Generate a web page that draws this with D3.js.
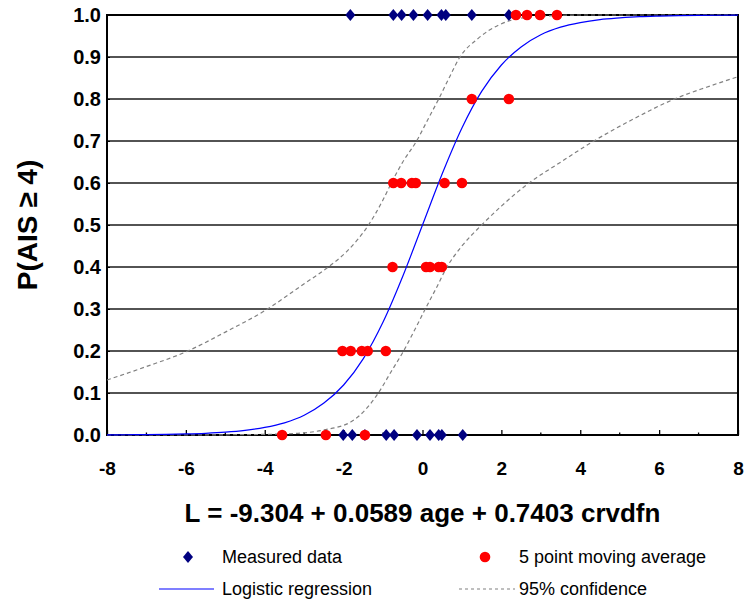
<!DOCTYPE html>
<html><head><meta charset="utf-8">
<script src="https://cdn.jsdelivr.net/npm/d3@7"></script>
<style>html,body{margin:0;padding:0;background:#fff;}svg{display:block;}</style>
</head><body>
<svg id="chart" width="744" height="599"></svg>
<script>
// ---- data ----
const xTickValues = [-8, -6, -4, -2, 0, 2, 4, 6, 8];
const xMinorTicks = [-7, -5, -3, -1, 1, 3, 5, 7];
const yTickValues = [0, 0.1, 0.2, 0.3, 0.4, 0.5, 0.6, 0.7, 0.8, 0.9, 1.0];

const measuredL = [-1.83, -0.74, -0.53, -0.23, 0.13, 0.48, 0.59, 1.25, 2.19,
                   -2.01, -1.78, -1.46, -0.92, -0.72, -0.14, 0.19, 0.41, 0.49, 1.02];
const measuredP = [1, 1, 1, 1, 1, 1, 1, 1, 1,
                   0, 0, 0, 0, 0, 0, 0, 0, 0, 0];

const movingAvgL = [-3.56, -2.45, -1.46,
                    -2.03, -1.82, -1.54, -1.39, -0.93,
                    -0.76, 0.09, 0.19, 0.41, 0.49,
                    -0.74, -0.54, -0.27, -0.17, 0.56, 1.0,
                    1.25, 2.19,
                    2.37, 2.65, 2.98, 3.41];
const movingAvgP = [0, 0, 0,
                    0.2, 0.2, 0.2, 0.2, 0.2,
                    0.4, 0.4, 0.4, 0.4, 0.4,
                    0.6, 0.6, 0.6, 0.6, 0.6, 0.6,
                    0.8, 0.8,
                    1, 1, 1, 1];

const regressionL = [-8, -7.5, -7, -6.5, -6, -5.5, -5, -4.5, -4, -3.5, -3, -2.5, -2, -1.5, -1, -0.5,
                     0, 0.5, 1, 1.5, 2, 2.5, 3, 3.5, 4, 4.5, 5, 5.5, 6, 6.5, 7, 7.5, 8];
const regressionP = [0.0003, 0.0006, 0.0009, 0.0015, 0.0025, 0.0041, 0.0067, 0.011, 0.018, 0.029, 0.047, 0.076, 0.119, 0.182, 0.269, 0.378,
                     0.5, 0.622, 0.731, 0.818, 0.881, 0.924, 0.953, 0.971, 0.982, 0.989, 0.993, 0.996, 0.9975, 0.9985, 0.9991, 0.9994, 0.9997];

const upperL = [-8, -7, -6, -5, -4, -3, -2.39, -1.93, -1.37, -1.0, -0.79, -0.5, -0.15, 0.13, 0.41, 0.7, 0.93, 1.42, 1.93, 2.27, 2.7, 3.2, 4, 5, 6, 7, 8];
const upperP = [0.131, 0.163, 0.198, 0.245, 0.296, 0.36, 0.40, 0.436, 0.50, 0.56, 0.60, 0.65, 0.70, 0.75, 0.80, 0.855, 0.897, 0.945, 0.976, 0.988, 0.995, 0.998, 1.0, 1.0, 1.0, 1.0, 1.0];

const lowerL = [-8, -6, -5, -4, -3.16, -2.5, -1.8, -1.45, -1.12, -0.8, -0.48, -0.2, 0.07, 0.35, 0.62, 1.0, 1.5, 2.0, 2.7, 3.46, 4.31, 5.3, 6.39, 7.2, 8];
const lowerP = [0.0, 0.0002, 0.0005, 0.0015, 0.004, 0.012, 0.032, 0.06, 0.10, 0.15, 0.20, 0.25, 0.30, 0.35, 0.40, 0.45, 0.50, 0.545, 0.60, 0.647, 0.698, 0.75, 0.80, 0.828, 0.853];

const xTitle = "L = -9.304 + 0.0589 age + 0.7403 crvdfn";
const yTitle = "P(AIS \u2265 4)";
const legendLabels = ["Measured data", "5 point moving average", "Logistic regression", "95% confidence"];

// ---- drawing ----
const FONT = "'Liberation Sans', Arial, sans-serif";
const svg = d3.select("#chart");
const plot = {left: 107, right: 738, top: 15, bottom: 435};
const x = d3.scaleLinear().domain([-8, 8]).range([plot.left, plot.right]);
const y = d3.scaleLinear().domain([0, 1]).range([plot.bottom, plot.top]);

svg.append("rect").attr("width", 744).attr("height", 599).attr("fill", "#fff");

// gridlines
svg.append("g").selectAll("line").data(yTickValues.filter(v => v > 0 && v < 1)).join("line")
  .attr("x1", plot.left).attr("x2", plot.right)
  .attr("y1", d => y(d)).attr("y2", d => y(d))
  .attr("stroke", "#1a1a1a").attr("stroke-width", 1.3);

// frame
svg.append("rect").attr("x", plot.left).attr("y", plot.top)
  .attr("width", plot.right - plot.left).attr("height", plot.bottom - plot.top)
  .attr("fill", "none").attr("stroke", "#000").attr("stroke-width", 2);

// x axis ticks (inside) and labels
const xAxis = d3.axisBottom(x).tickValues(xTickValues).tickSizeInner(-5).tickSizeOuter(0).tickPadding(0).tickFormat(d => String(d));
const gx = svg.append("g").attr("transform", `translate(0,${plot.bottom})`).call(xAxis);
gx.select(".domain").remove();
gx.selectAll(".tick line").attr("stroke", "#000").attr("stroke-width", 1.3);
gx.selectAll(".tick text").attr("y", 40).attr("dy", null)
  .attr("font-family", FONT).attr("font-size", 19).attr("font-weight", "bold").attr("fill", "#000");
svg.append("g").selectAll("line").data(xMinorTicks).join("line")
  .attr("x1", d => x(d)).attr("x2", d => x(d))
  .attr("y1", plot.bottom).attr("y2", plot.bottom - 2.5)
  .attr("stroke", "#000").attr("stroke-width", 1.3);

// y axis labels
const yAxis = d3.axisLeft(y).tickValues(yTickValues).tickSize(3).tickPadding(4).tickFormat(d3.format(".1f"));
const gy = svg.append("g").attr("transform", `translate(${plot.left},0)`).call(yAxis);
gy.select(".domain").remove();
gy.selectAll(".tick line").attr("x2", 3).attr("stroke", "#000");
gy.selectAll(".tick text").attr("x", -6)
  .attr("font-family", FONT).attr("font-size", 20).attr("font-weight", "bold").attr("fill", "#000");

// titles
svg.append("text").attr("x", (plot.left + plot.right) / 2).attr("y", 522)
  .attr("text-anchor", "middle").attr("font-family", FONT).attr("font-size", 26)
  .attr("font-weight", "bold").text(xTitle);
svg.append("text").attr("transform", `translate(37,${(plot.top + plot.bottom) / 2}) rotate(-90)`)
  .attr("text-anchor", "middle").attr("font-family", FONT).attr("font-size", 28)
  .attr("font-weight", "bold").text(yTitle);

// curves
const line = d3.line().x(d => x(d[0])).y(d => y(d[1])).curve(d3.curveMonotoneX);
const zip = (a, b) => a.map((v, i) => [v, b[i]]);
svg.append("path").datum(zip(upperL, upperP)).attr("d", line)
  .attr("fill", "none").attr("stroke", "#808080").attr("stroke-width", 1.2).attr("stroke-dasharray", "4,3");
svg.append("path").datum(zip(lowerL, lowerP)).attr("d", line)
  .attr("fill", "none").attr("stroke", "#808080").attr("stroke-width", 1.2).attr("stroke-dasharray", "4,3");
svg.append("path").datum(zip(regressionL, regressionP)).attr("d", line)
  .attr("fill", "none").attr("stroke", "#0000ff").attr("stroke-width", 1.2);

// markers
const diamond = "M0,-6L5,0L0,6L-5,0Z";
svg.append("g").selectAll("path").data(zip(measuredL, measuredP)).join("path")
  .attr("d", diamond).attr("transform", d => `translate(${x(d[0])},${y(d[1])})`)
  .attr("fill", "#000080");
svg.append("g").selectAll("circle").data(zip(movingAvgL, movingAvgP)).join("circle")
  .attr("cx", d => x(d[0])).attr("cy", d => y(d[1])).attr("r", 5.3)
  .attr("fill", "#ff0000");

// legend
const lg = svg.append("g").attr("font-family", FONT).attr("font-size", 18).attr("fill", "#000");
lg.append("path").attr("d", diamond).attr("transform", "translate(188,557)").attr("fill", "#000080");
lg.append("text").attr("x", 222).attr("y", 563).text(legendLabels[0]);
lg.append("circle").attr("cx", 485).attr("cy", 557).attr("r", 5.3).attr("fill", "#ff0000");
lg.append("text").attr("x", 519).attr("y", 563).text(legendLabels[1]);
lg.append("line").attr("x1", 159).attr("x2", 214).attr("y1", 589).attr("y2", 589)
  .attr("stroke", "#0000ff").attr("stroke-width", 1.2);
lg.append("text").attr("x", 222).attr("y", 595).text(legendLabels[2]);
lg.append("line").attr("x1", 459).attr("x2", 515).attr("y1", 589).attr("y2", 589)
  .attr("stroke", "#808080").attr("stroke-width", 1.2).attr("stroke-dasharray", "3,3");
lg.append("text").attr("x", 519).attr("y", 595).text(legendLabels[3]);
</script>
</body></html>
